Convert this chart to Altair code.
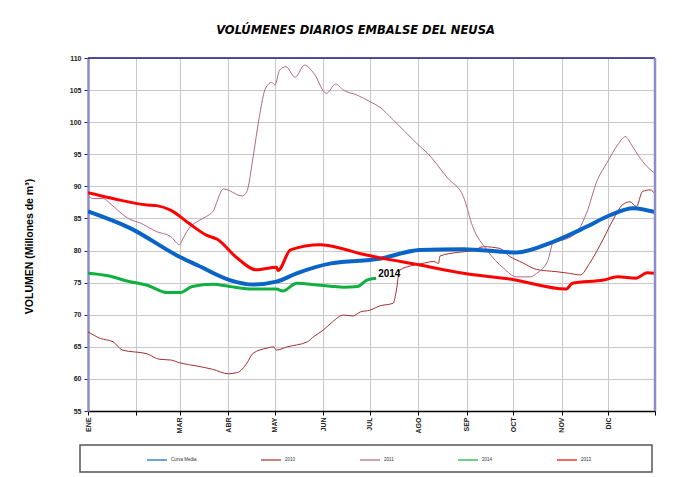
import altair as alt
import pandas as pd

series_names = ["Curva Media", "2010", "2011", "2014", "2013"]
series_colors = ["#0A64C8", "#A3302E", "#B5668C", "#10B040", "#FF0000"]
series_widths = [4, 1, 1, 3, 3]

month_days = [1, 32, 60, 91, 121, 152, 182, 213, 244, 274, 305, 335, 365]
month_labels = ["ENE", "", "MAR", "ABR", "MAY", "JUN", "JUL", "AGO", "SEP", "OCT", "NOV", "DIC", ""]
y_ticks = [55, 60, 65, 70, 75, 80, 85, 90, 95, 100, 105, 110]

media_day = [1, 28, 60, 71, 92, 107, 122, 135, 157, 188, 214, 242, 276, 300, 321, 336, 351, 365]
media_vol = [86.1, 83.5, 79.0, 77.75, 75.4, 74.7, 75.15, 76.45, 78.0, 78.7, 80.1, 80.2, 79.7, 81.4, 83.7, 85.5, 86.6, 86.0]

y2010_day = [1, 9, 17, 23, 39, 47, 54, 60, 71, 81, 91, 97, 103, 107, 116, 120, 122, 129, 142, 146, 152, 158,
             165, 171, 176, 182, 188, 197, 199, 201, 208, 216, 223, 226, 227, 238, 248, 255, 265, 272, 280, 289,
             302, 310, 317, 323, 332, 338, 344, 349, 353, 357, 362, 365]
y2010_vol = [67.35, 66.3, 65.8, 64.5, 63.9, 63.05, 62.95, 62.5, 62.0, 61.5, 60.8, 61.0, 62.45, 64.0, 64.8, 65.0,
             64.5, 65.0, 65.8, 66.6, 67.6, 68.9, 69.95, 69.8, 70.45, 70.7, 71.35, 71.8, 73.85, 76.9, 77.6, 78.0,
             78.3, 78.0, 79.15, 79.7, 80.0, 80.6, 80.35, 79.05, 78.1, 77.05, 76.7, 76.45, 76.2, 78.0, 81.9, 84.75,
             87.1, 87.6, 86.85, 89.2, 89.45, 88.8]

y2011_day = [1, 4, 11, 15, 28, 34, 45, 54, 60, 61, 66, 71, 77, 81, 88, 100, 103, 107, 111, 115, 119, 121, 124,
             128, 134, 140, 146, 154, 160, 165, 174, 182, 188, 197, 212, 219, 232, 242, 248, 257, 268, 276, 285,
             289, 296, 300, 306, 315, 321, 328, 334, 341, 346, 350, 354, 360, 365]
y2011_vol = [88.65, 88.1, 88.1, 87.35, 84.85, 84.35, 82.95, 82.2, 80.9, 81.4, 83.5, 84.5, 85.3, 86.05, 89.6,
             88.5, 89.2, 94.6, 100.85, 105.3, 106.2, 105.8, 108.1, 108.65, 107.0, 108.9, 107.6, 104.5, 105.95,
             105.0, 104.2, 103.2, 102.4, 100.35, 96.7, 95.15, 91.25, 88.4, 83.7, 80.1, 77.2, 75.9, 75.9, 76.45,
             78.3, 81.4, 81.65, 82.95, 85.8, 91.0, 93.6, 96.45, 97.75, 96.45, 94.9, 93.05, 92.0]

y2014_day = [1, 13, 28, 39, 52, 60, 68, 81, 92, 107, 122, 126, 135, 150, 165, 174, 180, 186]
y2014_vol = [76.45, 76.1, 75.15, 74.6, 73.45, 73.45, 74.4, 74.75, 74.4, 74.0, 74.0, 73.7, 74.9, 74.6, 74.3,
             74.4, 75.4, 75.7]

y2013_day = [1, 17, 39, 45, 54, 66, 77, 84, 96, 109, 122, 123, 131, 150, 165, 176, 188, 214, 242, 272, 308,
             312, 332, 341, 353, 360, 365]
y2013_vol = [89.0, 88.1, 87.1, 87.0, 86.3, 84.2, 82.4, 81.75, 79.0, 77.0, 77.4, 76.9, 80.1, 80.9, 80.25, 79.5,
             78.9, 77.75, 76.45, 75.55, 74.0, 74.9, 75.4, 75.9, 75.7, 76.55, 76.45]

draw_order = [("2010", y2010_day, y2010_vol), ("2011", y2011_day, y2011_vol),
              ("Curva Media", media_day, media_vol), ("2014", y2014_day, y2014_vol),
              ("2013", y2013_day, y2013_vol)]
rows = []
for name, days, vols in draw_order:
    for d, v in zip(days, vols):
        rows.append({"serie": name, "day": d, "vol": v})
df = pd.DataFrame(rows)

label_df = pd.DataFrame({"day": [y2014_day[-1]], "vol": [y2014_vol[-1]], "txt": ["2014"]})
one = pd.DataFrame({"k": [0]})

W, H = 567, 353

label_expr = "[" + ",".join("'%s'" % m for m in month_labels) + "][indexof([" + \
    ",".join(str(d) for d in month_days) + "], datum.value)]"

width_conditions = [{"test": "datum.serie == '%s'" % n, "value": w}
                    for n, w in zip(series_names, series_widths)]

x_enc = alt.X("day:Q", scale=alt.Scale(domain=[1, 365], nice=False, zero=False),
              axis=alt.Axis(values=month_days, labelExpr=label_expr, labelAngle=270, title=None,
                            grid=True, gridColor="#C8C8C8", domainColor="#000000", domainWidth=1.5,
                            tickColor="#000000", tickSize=4, labelFont="Liberation Sans",
                            labelFontSize=7, labelFontWeight="bold", labelColor="#222222",
                            labelPadding=2, labelOverlap=False))
y_enc = alt.Y("vol:Q", scale=alt.Scale(domain=[55, 110], nice=False, zero=False),
              axis=alt.Axis(values=y_ticks, title="VOLUMEN (Millones de m³)", grid=True,
                            gridColor="#C8C8C8", domainColor="#8C8CCC", domainWidth=2.5,
                            tickColor="#1A1A80", tickSize=4, labelFont="Liberation Sans",
                            labelFontSize=7, labelFontWeight="bold", labelColor="#222222",
                            labelPadding=3, titleFont="Liberation Sans", titleFontSize=10.5,
                            titleFontWeight="bold", titleColor="#000000",
                            titleX=-54, titleY=188, labelOverlap=False))

lines = alt.Chart(df).mark_line(interpolate="monotone", clip=True).encode(
    x=x_enc, y=y_enc,
    color=alt.Color("serie:N", scale=alt.Scale(domain=series_names, range=series_colors),
                    legend=alt.Legend(title=None, orient="none", direction="horizontal", columns=5,
                                      legendX=58, legendY=391, labelFontSize=4.5,
                                      labelFont="Liberation Sans", labelColor="#333333",
                                      symbolType="stroke", symbolSize=400, symbolStrokeWidth=2,
                                      symbolOpacity=0.6, labelOffset=3, columnPadding=60,
                                      padding=0)),
    strokeWidth=alt.value(2, condition=width_conditions),
)

txt = alt.Chart(label_df).mark_text(align="left", baseline="middle", dx=2, dy=-4, fontSize=10,
                                    fontWeight="bold", font="Liberation Sans", color="#000000").encode(
    x=x_enc, y=y_enc, text="txt:N")

top_border = alt.Chart(one).mark_rule(color="#1A1A80", strokeWidth=1.5).encode(
    x=alt.value(0), x2=alt.value(W), y=alt.value(0))
right_border = alt.Chart(one).mark_rule(color="#8C8CCC", strokeWidth=2.5).encode(
    x=alt.value(W), y=alt.value(0), y2=alt.value(H))
legend_box = alt.Chart(one).mark_rect(fillOpacity=0, stroke="#555555", strokeWidth=1.5).encode(
    x=alt.value(-8), x2=alt.value(564), y=alt.value(387), y2=alt.value(414))

chart = alt.layer(lines, txt, top_border, right_border, legend_box).properties(
    width=W, height=H,
    title=alt.Title("VOLÚMENES DIARIOS EMBALSE DEL NEUSA", fontSize=11.5, fontStyle="italic",
                    fontWeight="bold", font="DejaVu Sans", anchor="middle", dx=-16, offset=18,
                    color="#000000"),
    padding={"left": 80, "top": 50, "right": 15, "bottom": 64},
    autosize=alt.AutoSizeParams(type="none"),
).configure_view(stroke=None)

chart.save("out.html", embed_options={"renderer": "svg", "actions": False})
